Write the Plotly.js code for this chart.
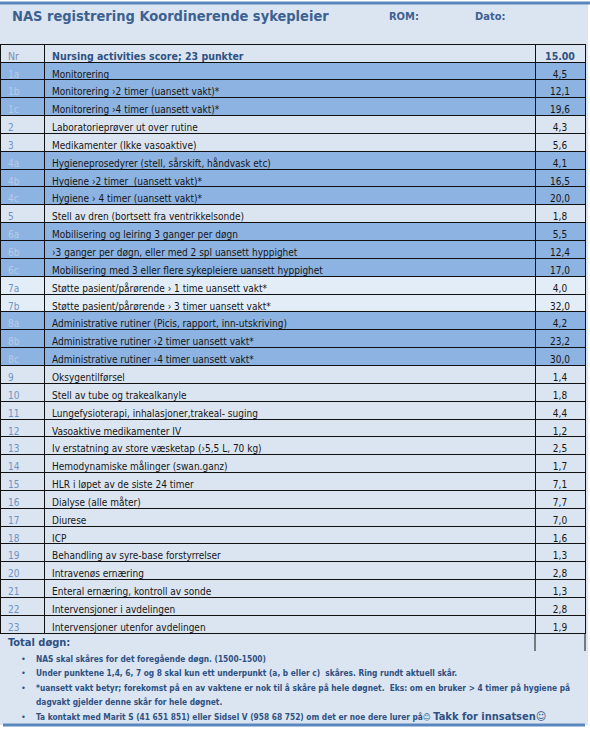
<!DOCTYPE html>
<html>
<head>
<meta charset="utf-8">
<script src="https://cdn.plot.ly/plotly-3.0.1.min.js"></script>
<style>html,body{margin:0;padding:0;background:#fff}#chart{width:590px;height:747px}</style>
</head>
<body>
<div id="chart"></div>
<script>
// ---- data ----
const itemIds = ["1a","1b","1c","2","3","4a","4b","4c","5","6a","6b","6c","7a","7b","8a","8b","8c",
  "9","10","11","12","13","14","15","16","17","18","19","20","21","22","23"];
const itemLabels = [
  "Monitorering",
  "Monitorering >2 timer (uansett vakt)*",
  "Monitorering >4 timer (uansett vakt)*",
  "Laboratorieprøver ut over rutine",
  "Medikamenter (Ikke vasoaktive)",
  "Hygieneprosedyrer (stell, sårskift, håndvask etc)",
  "Hygiene >2 timer  (uansett vakt)*",
  "Hygiene > 4 timer (uansett vakt)*",
  "Stell av dren (bortsett fra ventrikkelsonde)",
  "Mobilisering og leiring 3 ganger per døgn",
  ">3 ganger per døgn, eller med 2 spl uansett hyppighet",
  "Mobilisering med 3 eller flere sykepleiere uansett hyppighet",
  "Støtte pasient/pårørende > 1 time uansett vakt*",
  "Støtte pasient/pårørende > 3 timer uansett vakt*",
  "Administrative rutiner (Picis, rapport, inn-utskriving)",
  "Administrative rutiner >2 timer uansett vakt*",
  "Administrative rutiner >4 timer uansett vakt*",
  "Oksygentilførsel",
  "Stell av tube og trakealkanyle",
  "Lungefysioterapi, inhalasjoner,trakeal- suging",
  "Vasoaktive medikamenter IV",
  "Iv erstatning av store væsketap (>5,5 L, 70 kg)",
  "Hemodynamiske målinger (swan.ganz)",
  "HLR i løpet av de siste 24 timer",
  "Dialyse (alle måter)",
  "Diurese",
  "ICP",
  "Behandling av syre-base forstyrrelser",
  "Intravenøs ernæring",
  "Enteral ernæring, kontroll av sonde",
  "Intervensjoner i avdelingen",
  "Intervensjoner utenfor avdelingen"
];
const itemScores = [4.5,12.1,19.6,4.3,5.6,4.1,16.5,20.0,1.8,5.5,12.4,17.0,4.0,32.0,4.2,23.2,30.0,
  1.4,1.8,4.4,1.2,2.5,1.7,7.1,7.7,7.0,1.6,1.3,2.8,1.3,2.8,1.9];
const headerLabels = ["Nr","Nursing activities score; 23 punkter","15.00"];
const titleText = "NAS registrering Koordinerende sykepleier";
const romText = "ROM:";
const datoText = "Dato:";
const totalText = "Total døgn:";
const notes = [
  "NAS skal skåres for det foregående døgn. (1500-1500)",
  "Under punktene 1,4, 6, 7 og 8 skal kun ett underpunkt (a, b eller c)  skåres. Ring rundt aktuell skår.",
  "*uansett vakt betyr; forekomst på en av vaktene er nok til å skåre på hele døgnet.  Eks: om en bruker > 4 timer på hygiene på",
  "dagvakt gjelder denne skår for hele døgnet.",
  "Ta kontakt med Marit S (41 651 851) eller Sidsel V (958 68 752) om det er noe dere lurer på☺ "
];
const thanksText = "Takk for innsatsen☺";

// ---- styling ----
const W = 590, H = 747;
const FONT = "'Liberation Sans Narrow', 'Arial Narrow', 'DejaVu Sans Condensed', sans-serif";
const LIGHT = "#dbe5f1", BLUE = "#8db3e2", PALE = "#e3edf7";
const DARK = "#2f5183";
const tableTop = 44, tableLeft = 0, tableRight = 585;
const colW = [44, 491, 50];
const headerH = 18, rowH = 17.85;
const esc = s => s.replace(/&/g, "&amp;").replace(/</g, "&lt;").replace(/>/g, "&gt;");
// Plotly tables enlarge any cell whose text contains < > or &, so show '>' with a look-alike glyph
const cellText = s => s.replace(/ /g, "\u00a0").replace(/>/g, "\u203a");

function rowFill(id) {
  const n = parseInt(id, 10);
  const sub = /[a-c]$/.test(id);
  if (sub && n === 7) return PALE;
  if (sub) return BLUE;
  return LIGHT;
}
const fills = itemIds.map(rowFill);
const nrColors = fills.map(f => f === BLUE ? "#b6cbe8" : "#6f93c3");
const fmt = v => v.toFixed(1).replace(".", ",");

const tableBottom = tableTop + headerH + rowH * itemIds.length;
const px = x => x / W, py = y => 1 - y / H;

const trace = {
  type: "table",
  domain: {x: [px(tableLeft), px(tableRight)], y: [py(tableBottom + 8), py(tableTop)]},
  columnwidth: colW,
  header: {
    values: headerLabels.map(cellText),
    align: ["left", "left", "center"],
    height: headerH,
    fill: {color: LIGHT},
    line: {color: "#111", width: 1},
    font: {family: FONT, size: 10.5, color: ["#7d8ea8", DARK, DARK], weight: ["normal", "bold", "bold"]}
  },
  cells: {
    values: [itemIds, itemLabels.map(cellText), itemScores.map(fmt)],
    align: ["left", "left", "center"],
    height: rowH,
    fill: {color: [fills, fills, fills]},
    line: {color: "#111", width: 1},
    font: {family: FONT, size: 10, color: [nrColors, "#161616", "#161616"]}
  }
};

const shapes = [
  {type: "rect", xref: "paper", yref: "paper", x0: 0, x1: px(588), y0: py(725), y1: py(3),
   fillcolor: LIGHT, line: {width: 0}, layer: "below"},
  {type: "line", xref: "paper", yref: "paper", x0: 0, x1: 1, y0: py(3), y1: py(3),
   line: {color: "#5a86bd", width: 3}},
  {type: "line", xref: "paper", yref: "paper", x0: px(3), x1: px(585), y0: py(725), y1: py(725),
   line: {color: "#5a86bd", width: 3}},
  {type: "line", xref: "paper", yref: "paper", x0: px(colW[0] + colW[1]), x1: px(colW[0] + colW[1]),
   y0: py(tableBottom), y1: py(651), line: {color: "#111", width: 1}},
  {type: "line", xref: "paper", yref: "paper", x0: px(tableRight), x1: px(tableRight),
   y0: py(tableBottom), y1: py(651), line: {color: "#111", width: 1}}
];

const noteYs = [659, 673, 688, 702, 716.5];
const noteBullet = [true, true, true, false, true];
const annotations = [
  {text: "<b>" + titleText + "</b>", x: px(11), y: py(16), xanchor: "left", yanchor: "middle",
   font: {family: FONT, size: 14.5, color: "#3b6191"}},
  {text: "<b>" + romText + "</b>", x: px(388), y: py(17), xanchor: "left", yanchor: "middle",
   font: {family: FONT, size: 11, color: "#3b6191"}},
  {text: "<b>" + datoText + "</b>", x: px(474), y: py(17), xanchor: "left", yanchor: "middle",
   font: {family: FONT, size: 11, color: "#3b6191"}},
  {text: "<b>" + esc(totalText) + "</b>", x: px(7), y: py(642), xanchor: "left", yanchor: "middle",
   font: {family: FONT, size: 11, color: DARK}}
];
notes.forEach((t, i) => {
  if (noteBullet[i]) {
    annotations.push({text: "•", x: px(20), y: py(noteYs[i]), xanchor: "left", yanchor: "middle",
      font: {family: FONT, size: 9, color: DARK}});
  }
  let txt = "<b>" + esc(t) + "</b>";
  if (i === notes.length - 1) txt += "<b><span style=\"font-size:11px\">" + thanksText + "</span></b>";
  annotations.push({text: txt, x: px(35), y: py(noteYs[i]),
    xanchor: "left", yanchor: "middle", align: "left",
    font: {family: FONT, size: 8.3, color: DARK}});
});
annotations.forEach(a => { a.xref = "paper"; a.yref = "paper"; a.showarrow = false; a.borderpad = 0; });

Plotly.newPlot("chart", [trace], {
  width: W, height: H, margin: {l: 0, r: 0, t: 0, b: 0},
  paper_bgcolor: "#ffffff", plot_bgcolor: "#ffffff",
  shapes: shapes, annotations: annotations, showlegend: false
}, {displayModeBar: false, staticPlot: true});
</script>
</body>
</html>
